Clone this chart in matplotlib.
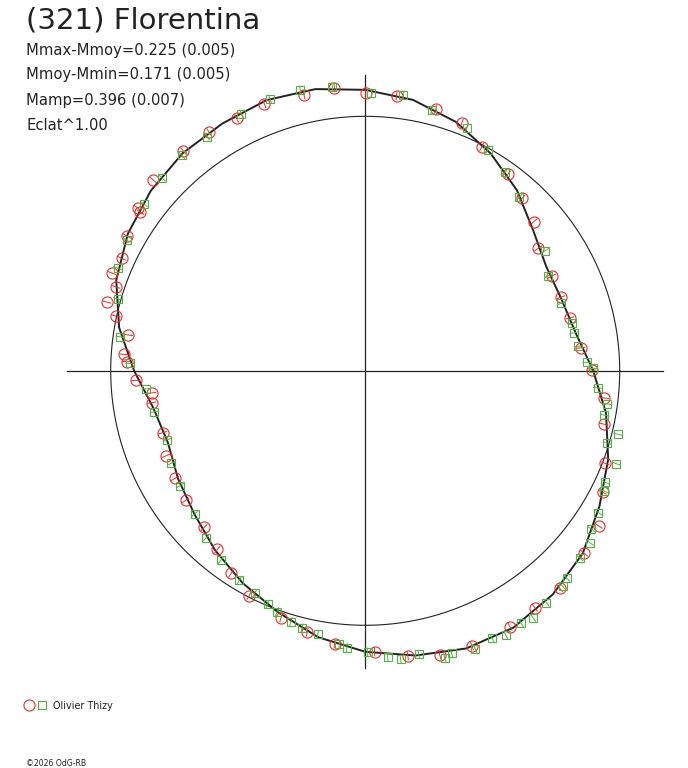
import numpy as np
import matplotlib
matplotlib.use("Agg")
import matplotlib.pyplot as plt

plt.rcParams['font.family'] = ['DejaVu Sans']

title = "(321) Florentina"
info_lines = ["Mmax-Mmoy=0.225 (0.005)", "Mmoy-Mmin=0.171 (0.005)",
              "Mamp=0.396 (0.007)", "Eclat^1.00"]
observer = "Olivier Thizy"
copyright_txt = "\u00a92026 OdG-RB"

# fitted curve: polar angle (deg) and relative flux (mean = 1)
curve_angle = list(range(0, 360, 10))
curve_flux = [0.896, 0.841, 0.821, 0.821, 0.861, 0.927, 0.986, 1.041, 1.081, 1.104,
              1.124, 1.132, 1.122, 1.116, 1.100, 1.077, 1.041, 0.982, 0.908, 0.845,
              0.825, 0.849, 0.876, 0.919, 0.963, 1.008, 1.063, 1.104, 1.136, 1.161,
              1.165, 1.147, 1.116, 1.063, 1.016, 0.961]

# session 1 (red circles)
red_angle = [89.9, 96.2, 102.5, 110.7, 117.0, 123.2, 129.6, 138.0, 144.4, 144.8,
             150.5, 155.2, 158.9, 161.4, 165.1, 167.6, 171.4, 176.1, 177.8,
             83.5, 74.9, 68.7, 62.5, 54.0, 47.7, 41.5, 35.3, 26.9, 20.6, 14.5, 6.1, 0.2,
             182.4, 185.9, 188.5, 197.0, 203.1, 209.5, 215.8, 224.2, 230.4, 236.5,
             242.7, 251.2, 257.5, 263.6, 271.9,
             278.5, 284.7, 291.2, 299.5, 305.6, 311.8, 320.2, 326.4, 332.9, 338.9,
             347.4, 353.5]
red_flux = [1.090, 1.119, 1.110, 1.122, 1.113, 1.120, 1.121, 1.120, 1.100, 1.081,
            1.074, 1.054, 1.066, 1.034, 1.050, 1.001, 0.941, 0.949, 0.938,
            1.088, 1.064, 1.044, 0.991, 0.954, 0.916, 0.885, 0.833, 0.822, 0.822, 0.831, 0.852, 0.890,
            0.901, 0.843, 0.848, 0.832, 0.851, 0.859, 0.870, 0.883, 0.911, 0.955,
            0.994, 1.025, 1.052, 1.081, 1.104,
            1.132, 1.155, 1.160, 1.155, 1.145, 1.147, 1.120, 1.101, 1.048, 1.011,
            0.960, 0.946]

# session 2 (green squares)
green_angle = [88.7, 96.6, 103.0, 109.3, 115.7, 124.0, 130.4, 136.5, 143.0, 151.3,
               157.5, 163.8, 172.1, 178.2,
               82.1, 75.7, 67.3, 61.0, 54.8, 48.4, 33.7, 27.4, 19.0, 12.9, 10.3, 6.6, 2.2, 0.6,
               184.7, 191.0, 199.2, 205.5, 211.8, 220.0, 226.4, 232.7, 239.0, 243.6,
               247.3, 249.9, 253.5, 256.2, 259.8, 264.6, 266.2, 270.5,
               274.5, 277.0, 280.7, 285.5, 287.0, 291.6, 295.4, 298.0, 301.7, 304.2,
               308.0, 312.5, 314.2, 318.9, 322.6, 325.0, 328.7, 333.3, 335.1, 339.7,
               343.4, 345.9, 349.5, 352.2, 355.8]
green_flux = [1.091, 1.124, 1.132, 1.132, 1.121, 1.110, 1.111, 1.100, 1.089, 1.069,
              1.053, 1.013, 0.973, 0.925,
              1.094, 1.059, 1.035, 0.993, 0.956, 0.913, 0.849, 0.811, 0.814, 0.835, 0.834, 0.843, 0.873, 0.894,
              0.864, 0.844, 0.825, 0.845, 0.856, 0.875, 0.906, 0.935, 0.959, 0.976,
              0.993, 1.008, 1.028, 1.040, 1.052, 1.079, 1.090, 1.106,
              1.127, 1.142, 1.134, 1.170, 1.161, 1.176, 1.163, 1.176, 1.166, 1.174,
              1.157, 1.148, 1.136, 1.120, 1.112, 1.084, 1.072, 1.051, 1.039, 1.051,
              0.993, 1.023, 0.956, 0.958, 0.916]

RED = "#ee2b2b"
GREEN = "#4fb443"
INK = "#222222"

W, H = 688, 768
CX, CY, SCALE = 365.2, 370.8, 254.5
fig = plt.figure(figsize=(W / 100, H / 100), dpi=100)
ax = fig.add_axes([0, 0, 1, 1])
ax.set_xlim(-CX / SCALE, (W - CX) / SCALE)
ax.set_ylim(-(H - CY) / SCALE, CY / SCALE)
ax.set_aspect('equal')
ax.axis('off')

# axes cross
L = 1.172
ax.plot([-L, L], [0, 0], color=INK, lw=0.9)
ax.plot([0, 0], [-L + 0.005, L - 0.01], color=INK, lw=0.9)

# mean circle
t = np.linspace(0, 2 * np.pi, 400)
ax.plot(np.cos(t), np.sin(t), color=INK, lw=0.8)

# fitted curve
ca = np.radians(np.array(curve_angle + [curve_angle[0]]))
cf = np.array(curve_flux + [curve_flux[0]])
ax.plot(cf * np.cos(ca), cf * np.sin(ca), color=INK, lw=1.4)


def draw_points(angles, fluxes, marker, color, ms):
    a = np.radians(np.array(angles))
    f = np.array(fluxes)
    x, y = f * np.cos(a), f * np.sin(a)
    ax.plot(x, y, linestyle='none', marker=marker, ms=ms, mfc='none',
            mec=color, mew=0.8, zorder=4)
    e = 0.016
    for ai, fi in zip(a, f):
        ax.plot([(fi - e) * np.cos(ai), (fi + e) * np.cos(ai)],
                [(fi - e) * np.sin(ai), (fi + e) * np.sin(ai)],
                color=color, lw=0.7, zorder=4)


draw_points(red_angle, red_flux, 'o', RED, 8.0)
draw_points(green_angle, green_flux, 's', GREEN, 6.0)

# texts
fig.text(26 / W, 1 - 21 / H, title, fontsize=21, color=INK, va='center', ha='left')
for i, s in enumerate(info_lines):
    fig.text(26 / W, 1 - (50 + 25 * i) / H, s, fontsize=10.6, color=INK,
             va='center', ha='left')

# legend
ax.plot([(29 - CX) / SCALE], [(CY - 705) / SCALE], marker='o', ms=8, mfc='none',
        mec=RED, mew=0.8, clip_on=False)
ax.plot([(42 - CX) / SCALE], [(CY - 705) / SCALE], marker='s', ms=6, mfc='none',
        mec=GREEN, mew=0.8, clip_on=False)
fig.text(53 / W, 1 - 706 / H, observer, fontsize=6.9, color=INK, va='center', ha='left')
fig.text(26 / W, 1 - 763 / H, copyright_txt, fontsize=5.6, color=INK, va='center', ha='left')

fig.savefig("out.png", dpi=100)
